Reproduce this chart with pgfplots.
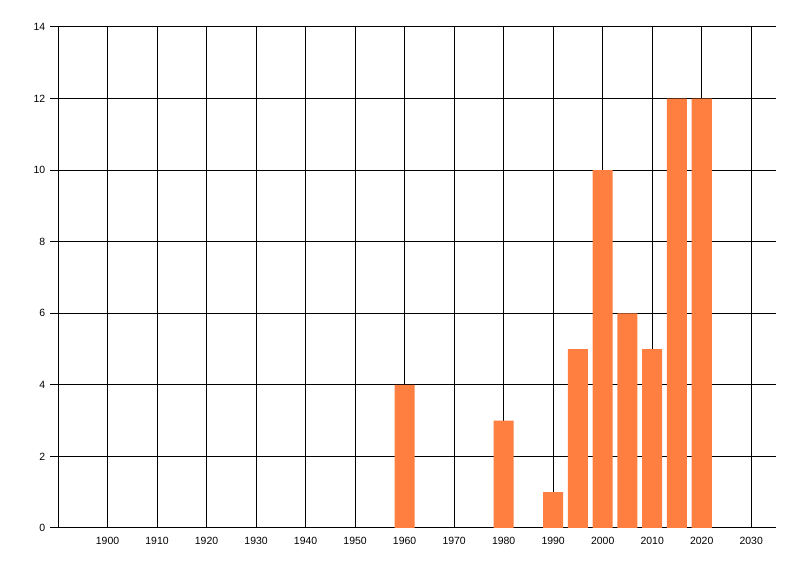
\documentclass[border=0pt]{standalone}
\usepackage{fontspec}
\setmainfont{Liberation Sans}
\usepackage{pgfplots}
\pgfplotsset{compat=1.18}
\definecolor{barorange}{RGB}{255,127,65}

\begin{document}
\fontsize{10.5}{12}\selectfont
\begin{tikzpicture}
\path[use as bounding box] (0,0) rectangle (800bp,576bp);
\begin{axis}[
    at={(58bp,48bp)}, anchor=south west,
    scale only axis, width=718bp, height=501bp,
    xmin=1890, xmax=2035, ymin=0, ymax=14,
    axis lines*=left,
    axis line style={black, line width=1bp},
    xtick={1900,1910,...,2030},
    ytick={0,2,...,14},
    extra x ticks={1890}, extra x tick labels={},
    extra x tick style={grid=major},
    grid=major,
    major grid style={black, line width=1bp},
    xtick style={draw=none},
    ytick style={black, line width=1bp},
    major tick length=8bp,
    tick align=outside,
    x tick label style={yshift=2.5bp},
    y tick label style={xshift=-1bp},
    /pgf/number format/assume math mode=true,
    /pgf/number format/1000 sep={},
    font=\fontsize{10.5}{12}\selectfont,
    ybar, bar width=4.05,
]
\addplot[fill=barorange, draw=none] coordinates {
    (1960,4) (1980,3) (1990,1) (1995,5) (2000,10)
    (2005,6) (2010,5) (2015,12) (2020,12)
};
\end{axis}
\end{tikzpicture}
\end{document}
